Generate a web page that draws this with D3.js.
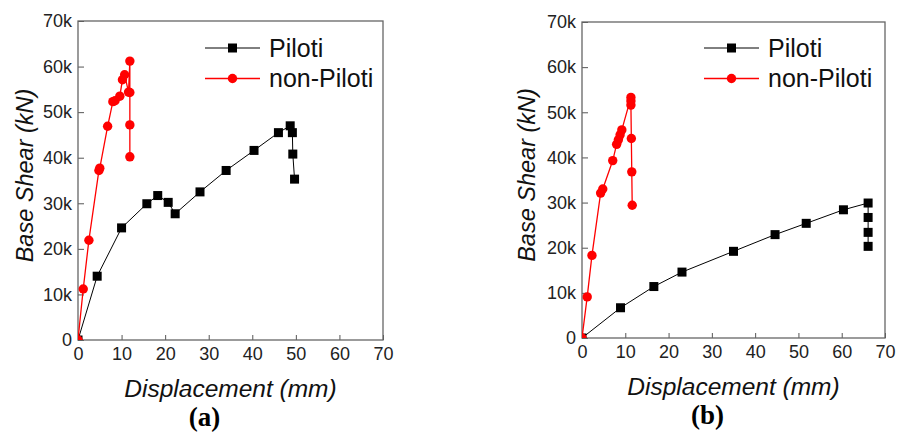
<!DOCTYPE html>
<html>
<head>
<meta charset="utf-8">
<script src="https://cdn.jsdelivr.net/npm/d3@7"></script>
<style>
  html, body { margin: 0; padding: 0; background: #fff; }
  svg { display: block; }
</style>
</head>
<body>
<svg id="chart" width="904" height="436"></svg>
<script>
// Axis ticks
const dispTicks = [0, 10, 20, 30, 40, 50, 60, 70];
const shearTicks = [0, 10000, 20000, 30000, 40000, 50000, 60000, 70000];
const shearTickLabels = ["0", "10k", "20k", "30k", "40k", "50k", "60k", "70k"];
const seriesNames = ["Piloti", "non-Piloti"];

// Panel (a): displacement (mm) / base shear (kN)
const pilotiA_disp  = [0, 4.4, 10.0, 15.8, 18.3, 20.7, 22.3, 28.0, 34.0, 40.4, 46.0, 48.7, 49.2, 49.3, 49.7];
const pilotiA_shear = [0, 14000, 24600, 29900, 31700, 30200, 27700, 32500, 37200, 41600, 45500, 47000, 45500, 40800, 35300];
const nonPilotiA_disp  = [0, 1.2, 2.5, 4.8, 5.0, 6.8, 8.0, 8.5, 9.6, 10.2, 10.7, 11.6, 11.9, 11.9, 11.9, 11.9];
const nonPilotiA_shear = [0, 11200, 21900, 37200, 37700, 46900, 52300, 52500, 53500, 57100, 58200, 54400, 61200, 54300, 47200, 40200];

// Panel (b)
const pilotiB_disp  = [0, 8.9, 16.6, 23.1, 35.0, 44.6, 51.8, 60.4, 66.1, 66.1, 66.1, 66.1];
const pilotiB_shear = [0, 6700, 11400, 14600, 19200, 22900, 25400, 28400, 29900, 26700, 23400, 20300];
const nonPilotiB_disp  = [0, 1.2, 2.3, 4.3, 4.8, 7.1, 8.0, 8.4, 8.8, 9.2, 11.3, 11.3, 11.3, 11.4, 11.5, 11.6];
const nonPilotiB_shear = [0, 9100, 18300, 32100, 33000, 39300, 42900, 43900, 45000, 46100, 53300, 52500, 51600, 44200, 36800, 29400];

const svg = d3.select("#chart");
const font = "'Liberation Sans', Arial, sans-serif";

const panels = [
  { id: "a", x0: 78, x1: 383, y0: 340, y1: 21, labelX: 33, legX: 205,
    piloti: [pilotiA_disp, pilotiA_shear], non: [nonPilotiA_disp, nonPilotiA_shear] },
  { id: "b", x0: 582, x1: 885, y0: 338, y1: 22, labelX: 535, legX: 704,
    piloti: [pilotiB_disp, pilotiB_shear], non: [nonPilotiB_disp, nonPilotiB_shear] }
];

const colors = { piloti: "#000000", non: "#ff0000" };

function drawMarker(g, kind, x, y) {
  if (kind === "piloti") {
    g.append("rect").attr("x", x - 4.5).attr("y", y - 4.5)
      .attr("width", 9).attr("height", 9).attr("fill", colors.piloti);
  } else {
    g.append("circle").attr("cx", x).attr("cy", y).attr("r", 4.7)
      .attr("fill", colors.non);
  }
}

panels.forEach(p => {
  const x = d3.scaleLinear().domain([0, 70]).range([p.x0, p.x1]);
  const y = d3.scaleLinear().domain([0, 70000]).range([p.y0, p.y1]);
  const g = svg.append("g");

  const clipId = "clip-" + p.id;
  svg.append("clipPath").attr("id", clipId).append("rect")
    .attr("x", p.x0).attr("y", p.y1).attr("width", p.x1 - p.x0).attr("height", p.y0 - p.y1);

  // X axis with inward ticks
  const xAxis = d3.axisBottom(x).tickValues(dispTicks).tickSizeInner(-5).tickSizeOuter(0).tickPadding(10);
  const gx = g.append("g").attr("transform", `translate(0,${p.y0})`).call(xAxis);
  gx.select(".domain").remove();
  gx.selectAll(".tick line").attr("stroke", "#555");
  gx.selectAll(".tick text").attr("font-family", font).attr("font-size", 18).attr("fill", "#222")
    .attr("dy", "0.71em").attr("y", 7.5);

  // Y axis with inward ticks
  const yAxis = d3.axisLeft(y).tickValues(shearTicks)
    .tickFormat((d, i) => shearTickLabels[i]).tickSizeInner(-6).tickSizeOuter(0).tickPadding(7);
  const gy = g.append("g").attr("transform", `translate(${p.x0},0)`).call(yAxis);
  gy.select(".domain").remove();
  gy.selectAll(".tick line").attr("stroke", "#555");
  gy.selectAll(".tick text").attr("font-family", font).attr("font-size", 18).attr("fill", "#222")
    .attr("x", -6);

  // Plot frame
  g.append("rect").attr("x", p.x0).attr("y", p.y1)
    .attr("width", p.x1 - p.x0).attr("height", p.y0 - p.y1)
    .attr("fill", "none").attr("stroke", "#666").attr("stroke-width", 1.3);

  const line = d3.line().x(d => x(d[0])).y(d => y(d[1]));
  const plot = g.append("g").attr("clip-path", `url(#${clipId})`);

  [["piloti", p.piloti], ["non", p.non]].forEach(([kind, arr]) => {
    const pts = arr[0].map((d, i) => [d, arr[1][i]]);
    plot.append("path").datum(pts).attr("d", line).attr("fill", "none")
      .attr("stroke", colors[kind]).attr("stroke-width", kind === "piloti" ? 1 : 1.3);
    const mg = plot.append("g");
    pts.forEach(d => drawMarker(mg, kind, x(d[0]), y(d[1])));
  });

  // Legend
  const leg = g.append("g");
  [["piloti", 0, 48], ["non", 1, 78.5]].forEach(([kind, idx, ly]) => {
    leg.append("line").attr("x1", p.legX).attr("x2", p.legX + 55).attr("y1", ly).attr("y2", ly)
      .attr("stroke", colors[kind]).attr("stroke-width", kind === "piloti" ? 1 : 1.3);
    drawMarker(leg, kind, p.legX + 27.5, ly);
    leg.append("text").attr("x", p.legX + 64).attr("y", ly + 8.5)
      .attr("font-family", font).attr("font-size", 25).attr("fill", "#111")
      .text(seriesNames[idx]);
  });

  // Axis titles
  g.append("text").attr("transform", `translate(${p.labelX},${(p.y0 + p.y1) / 2 - 5}) rotate(-90)`)
    .attr("text-anchor", "middle").attr("font-family", font).attr("font-style", "italic")
    .attr("font-size", 23.5).attr("fill", "#111").text("Base Shear (kN)");
  g.append("text").attr("x", (p.x0 + p.x1) / 2).attr("y", p.y0 + 56.5)
    .attr("text-anchor", "middle").attr("font-family", font).attr("font-style", "italic")
    .attr("font-size", 24.5).attr("fill", "#111").text("Displacement (mm)");

  // Panel label
  g.append("text").attr("x", (p.x0 + p.x1) / 2 - 26).attr("y", p.y0 + 86)
    .attr("text-anchor", "middle").attr("font-family", "'Liberation Serif', 'Times New Roman', serif")
    .attr("font-weight", "bold").attr("font-size", 27).attr("fill", "#000").text(`(${p.id})`);
});
</script>
</body>
</html>
